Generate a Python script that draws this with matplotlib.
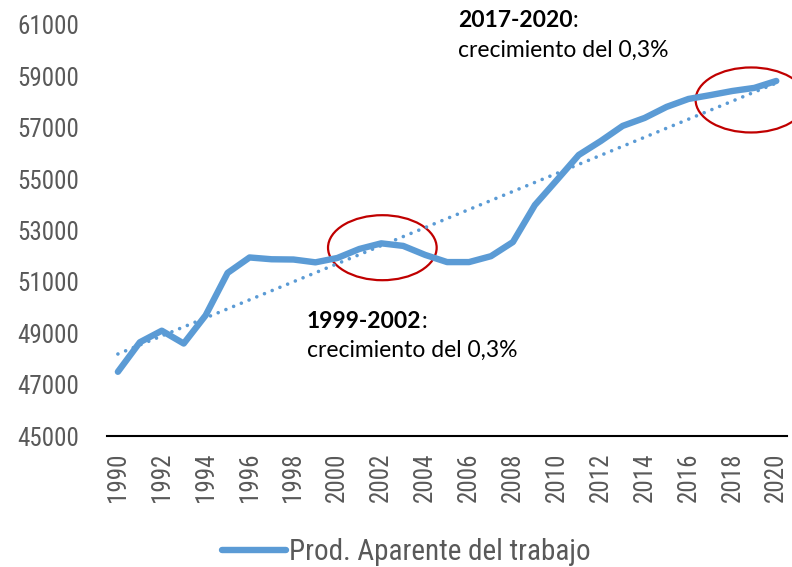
import numpy as np
import matplotlib.pyplot as plt
from matplotlib.patches import Ellipse

years = np.arange(1990, 2021)
prod = [47500, 48650, 49100, 48600, 49700, 51350, 51950, 51880, 51870, 51760,
        51930, 52280, 52500, 52400, 52050, 51770, 51770, 52000, 52550, 53990,
        54960, 55940, 56480, 57070, 57380, 57810, 58120, 58270, 58430, 58550,
        58820]
tick_years = years[::2]
series_label = 'Prod. Aparente del trabajo'
note1 = ('1999-2002', 'crecimiento del 0,3%')
note2 = ('2017-2020', 'crecimiento del 0,3%')

blue = '#5B9BD5'
grey = '#595959'
tick_font = ['Roboto Condensed', 'DejaVu Sans']
note_font = ['Lato', 'DejaVu Sans']

fig = plt.figure(figsize=(7.92, 5.67), dpi=100)
ax = fig.add_axes([0.135, 0.231, 0.859, 0.725])

ax.plot(years, prod, color=blue, lw=4.6, solid_capstyle='round',
        solid_joinstyle='round', label=series_label)

# linear trend
k, b = np.polyfit(years, prod, 1)
ax.plot(years, k * years + b, color=blue, lw=2.6, linestyle=(0, (0.01, 2.3)),
        dash_capstyle='round')

ax.set_xlim(1989.5, 2020.5)
ax.set_ylim(45000, 61000)
ax.set_yticks(np.arange(45000, 61001, 2000))
ax.set_xticks(tick_years)
ax.set_xticklabels([str(y) for y in tick_years], rotation=90)
for lab in ax.get_xticklabels() + ax.get_yticklabels():
    lab.set_family(tick_font)
    lab.set_fontsize(18)
    lab.set_color(grey)
ax.tick_params(length=0, pad=12)
ax.tick_params(axis='y', pad=20)
for s in ['top', 'right', 'left']:
    ax.spines[s].set_visible(False)
ax.spines['bottom'].set_color('black')
ax.spines['bottom'].set_linewidth(1.5)

# red ellipses
ax.add_patch(Ellipse((2002.05, 52330), 4.95, 2530, fill=False,
                     edgecolor='#C00000', lw=1.6, clip_on=False))
ax.add_patch(Ellipse((2018.85, 58080), 5.05, 2530, fill=False,
                     edgecolor='#C00000', lw=1.6, clip_on=False))

# annotations
def note(x, y1, y2, head, body):
    t = ax.text(x, y1, head, fontsize=16.5, fontweight='bold',
                family=note_font, color='black')
    ax.annotate(':', xy=(1, 0), xycoords=t, fontsize=16.5, family=note_font,
                color='black', va='bottom')
    ax.text(x, y2, body, fontsize=16.5, family=note_font, color='black')

note(1998.6, 49200, 48070, *note1)
note(2005.5, 60920, 59750, *note2)

leg = fig.legend(loc='center', bbox_to_anchor=(0.513, 0.026), frameon=False,
                 handlelength=2.2, handletextpad=0.1,
                 prop={'family': tick_font, 'size': 21})
for t in leg.get_texts():
    t.set_color(grey)

fig.savefig('out.png', dpi=100)
